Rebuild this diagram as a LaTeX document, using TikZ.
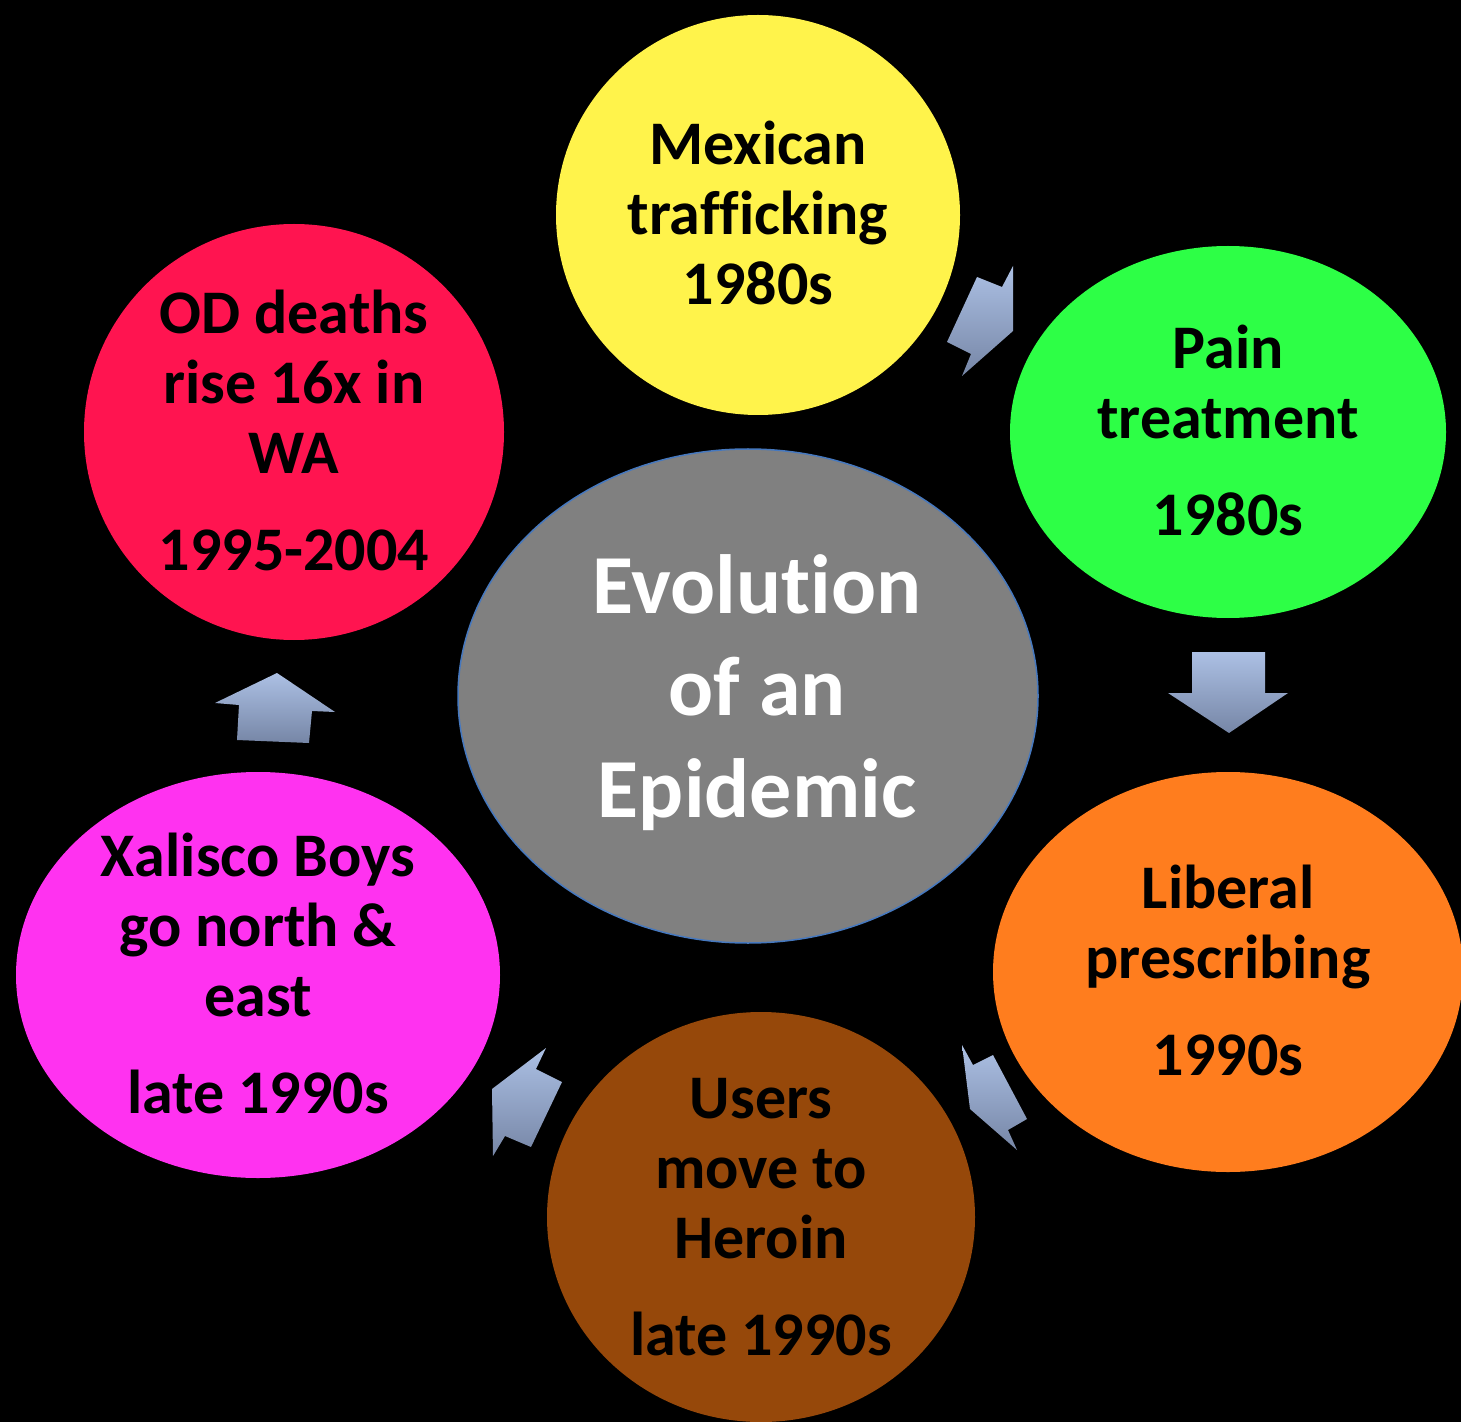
\documentclass[tikz,border=0pt]{standalone}
\usepackage{fontspec}
\setmainfont{Carlito}[Ligatures={NoCommon}]
\usetikzlibrary{shapes.geometric}
\definecolor{cyellow}{RGB}{255,243,75}
\definecolor{cgreen}{RGB}{45,255,70}
\definecolor{corange}{RGB}{255,125,30}
\definecolor{cbrown}{RGB}{150,72,10}
\definecolor{cmagenta}{RGB}{255,50,240}
\definecolor{cred}{RGB}{255,20,80}
\definecolor{cgray}{RGB}{128,128,128}
\definecolor{cborder}{RGB}{70,120,190}
\definecolor{arrowtop}{RGB}{172,192,228}
\definecolor{arrowbottom}{RGB}{118,134,166}
\tikzset{%
	bubble/.style={ellipse, inner sep=0pt},
	caption/.style={align=center, text=black, font=\fontsize{31}{35}\selectfont\bfseries},
	blockarrow/.style={top color=arrowtop, bottom color=arrowbottom, draw=none}
}

\begin{document}
\begin{tikzpicture}[x=0.5pt,y=-0.5pt]
	\useasboundingbox (0,0) rectangle (1461,1422);
	\fill[black] (0,0) rectangle (1461,1422);
	\clip (0,0) rectangle (1461,1422);

	% outer ring
	\node[bubble, fill=cyellow, minimum width=202pt, minimum height=200pt]	(mexican)	at (758,215)	{};
	\node[bubble, fill=cgreen, minimum width=218pt, minimum height=186pt]	(pain)		at (1228,432)	{};
	\node[bubble, fill=corange, minimum width=235pt, minimum height=200pt]	(liberal)	at (1228,972)	{};
	\node[bubble, fill=cbrown, minimum width=214pt, minimum height=205pt]	(users)		at (761,1217)	{};
	\node[bubble, fill=cmagenta, minimum width=242pt, minimum height=203pt]	(xalisco)	at (258,975)	{};
	\node[bubble, fill=cred, minimum width=210pt, minimum height=208pt]		(deaths)	at (294,432)	{};
	\node[bubble, fill=cgray, draw=cborder, line width=0.75pt, minimum width=290pt, minimum height=247pt] (epidemic) at (748,696) {};

	\node[caption]	(mexican-text)	at ([yshift=1pt]mexican)	{Mexican\\trafficking\\1980s};
	\node[caption]	(pain-text)		at ([yshift=1pt]pain)		{Pain\\treatment\\[13.5pt]1980s};
	\node[caption]	(liberal-text)	at ([yshift=1pt]liberal)	{Liberal\\prescribing\\[13.5pt]1990s};
	\node[caption]	(users-text)	at (users)		{Users\\move to\\Heroin\\[13.5pt]late 1990s};
	\node[caption]	(xalisco-text)	at ([yshift=1pt]xalisco)	{Xalisco Boys\\go north \&\\east\\[13.5pt]late 1990s};
	\node[caption]	(deaths-text)	at ([yshift=1pt]deaths)		{OD deaths\\rise 16x in\\WA\\[13.5pt]1995-2004};
	\node[caption, text=white, font=\fontsize{42}{51}\selectfont\bfseries] (epidemic-text) at ([xshift=4.5pt,yshift=1.5pt]epidemic) {Evolution\\of an\\Epidemic};

	% block arrows
	\path[blockarrow] (977,277) -- (1002,287) -- (1013,266) -- (1013,331) -- (962,376) -- (971,354) -- (947,342) -- cycle;
	\path[blockarrow] (1192,652) -- (1265,652) -- (1265,693) -- (1288,693) -- (1229,733) -- (1168,693) -- (1192,693) -- cycle;
	\path[blockarrow] (962,1045) -- (973,1065) -- (993,1055) -- (1027,1119) -- (1008,1130) -- (1017,1150) -- (970,1109) -- cycle;
	\path[blockarrow] (546,1048) -- (536,1069) -- (562,1082) -- (531,1147) -- (505,1136) -- (493,1156) -- (492,1089) -- cycle;
	\path[blockarrow] (277,673) -- (335,712) -- (312,711) -- (309,743) -- (237,740) -- (239,705) -- (215,703) -- cycle;
\end{tikzpicture}
\end{document}
